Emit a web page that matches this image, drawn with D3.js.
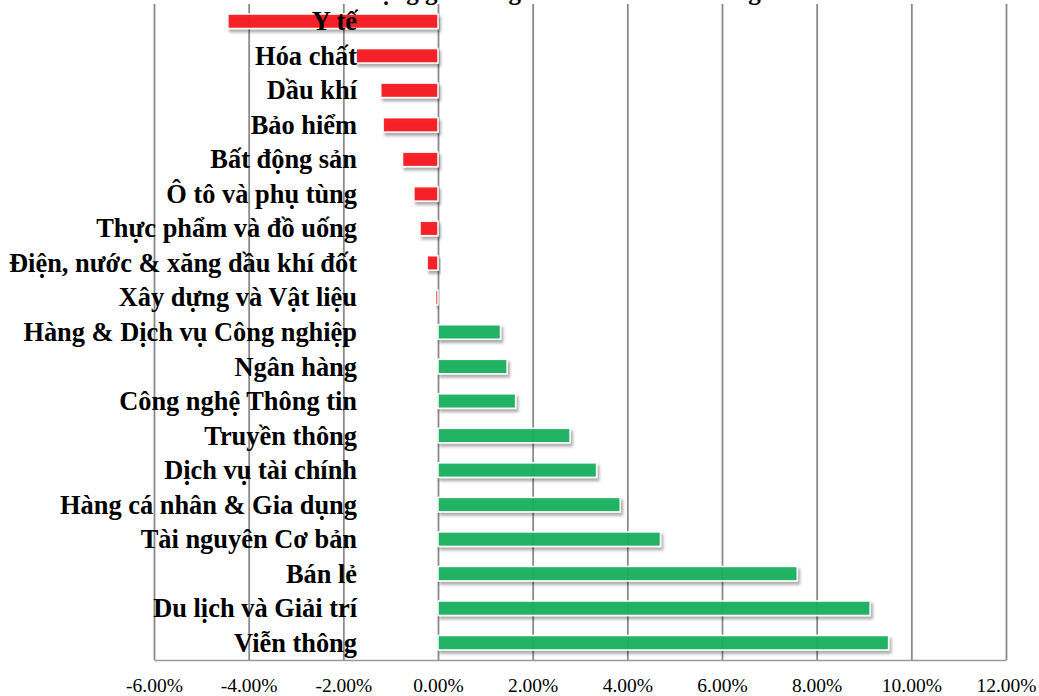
<!DOCTYPE html>
<html lang="vi">
<head>
  <meta charset="UTF-8">
  <title>Biến động giá theo nhóm ngành</title>
  <script src="https://d3js.org/d3.v7.min.js"></script>
  <style>
    body { margin: 0; background: #fff; }
    svg { display: block; }
    text { font-family: "Liberation Serif", "Times New Roman", serif; }
  </style>
</head>
<body>
<svg id="bar-chart"></svg>
<script>
  // Data
  const title = "Biến động giá trong tuần của các nhóm ngành";
  const categories = [
    "Y tế", "Hóa chất", "Dầu khí", "Bảo hiểm", "Bất động sản",
    "Ô tô và phụ tùng", "Thực phẩm và đồ uống", "Điện, nước & xăng dầu khí đốt",
    "Xây dựng và Vật liệu", "Hàng & Dịch vụ Công nghiệp", "Ngân hàng",
    "Công nghệ Thông tin", "Truyền thông", "Dịch vụ tài chính",
    "Hàng cá nhân & Gia dụng", "Tài nguyên Cơ bản", "Bán lẻ",
    "Du lịch và Giải trí", "Viễn thông"
  ];
  const changes = [
    -4.44, -1.73, -1.21, -1.16, -0.75, -0.51, -0.38, -0.23, -0.05,
    1.32, 1.46, 1.64, 2.79, 3.35, 3.85, 4.70, 7.59, 9.13, 9.52
  ];
  const tickValues = [-6, -4, -2, 0, 2, 4, 6, 8, 10, 12];

  const data = categories.map((c, i) => ({ name: c, value: changes[i] }));

  const width = 1039, height = 696;
  const margin = { top: 4, right: 33, bottom: 36, left: 154 };

  const svg = d3.select("#bar-chart")
    .attr("width", width)
    .attr("height", height);

  // Drop shadow used by the bars
  const defs = svg.append("defs");
  const filter = defs.append("filter")
    .attr("id", "shadow")
    .attr("x", "-10%").attr("y", "-50%")
    .attr("width", "130%").attr("height", "250%");
  filter.append("feDropShadow")
    .attr("dx", 2).attr("dy", 3)
    .attr("stdDeviation", 1.8)
    .attr("flood-color", "#000")
    .attr("flood-opacity", 0.35);

  const xScale = d3.scaleLinear()
    .domain([-6, 12])
    .range([margin.left, width - margin.right]);

  const yScale = d3.scaleBand()
    .domain(categories)
    .range([margin.top, height - margin.bottom])
    .paddingInner(0.58)
    .paddingOuter(0.29);

  // Vertical gridlines
  svg.append("g")
    .attr("class", "grid")
    .attr("transform", "translate(0," + (height - margin.bottom) + ")")
    .call(d3.axisBottom(xScale)
      .tickValues(tickValues)
      .tickSize(-(height - margin.bottom - margin.top))
      .tickFormat(""))
    .call(g => g.select(".domain").remove())
    .call(g => g.selectAll("line")
      .attr("stroke", "#8a8a8a")
      .attr("stroke-width", 1.8));

  // Bars
  svg.append("g")
    .selectAll("rect")
    .data(data)
    .join("rect")
    .attr("x", d => xScale(Math.min(0, d.value)))
    .attr("y", d => yScale(d.name))
    .attr("width", d => Math.abs(xScale(d.value) - xScale(0)))
    .attr("height", yScale.bandwidth())
    .attr("fill", d => d.value < 0 ? "#f71a1c" : "#17b05c")
    .attr("fill-opacity", 0.93)
    .attr("stroke", "#fff")
    .attr("stroke-width", 1.5)
    .attr("filter", "url(#shadow)");

  // Category labels
  svg.append("g")
    .selectAll("text")
    .data(data)
    .join("text")
    .attr("x", 357)
    .attr("y", d => yScale(d.name) + yScale.bandwidth() / 2 + 9)
    .attr("text-anchor", "end")
    .style("font-size", "26.4px")
    .style("font-weight", "bold")
    .attr("fill", "#000")
    .text(d => d.name);

  // Bottom axis
  const xAxis = svg.append("g")
    .attr("transform", "translate(0," + (height - margin.bottom) + ")")
    .call(d3.axisBottom(xScale)
      .tickValues(tickValues)
      .tickSize(0)
      .tickSizeOuter(0)
      .tickPadding(18)
      .tickFormat(d => d.toFixed(2) + "%"));
  xAxis.select(".domain")
    .attr("stroke", "#999")
    .attr("stroke-width", 1.5);
  xAxis.selectAll("text")
    .style("font-size", "19.5px")
    .style("font-family", "'Liberation Serif', 'Times New Roman', serif")
    .attr("fill", "#000");

  // Title (cropped at the top like the picture)
  svg.append("text")
    .attr("x", 556)
    .attr("y", 0)
    .attr("text-anchor", "middle")
    .style("font-size", "25px")
    .style("font-weight", "bold")
    .text(title);
</script>
</body>
</html>
